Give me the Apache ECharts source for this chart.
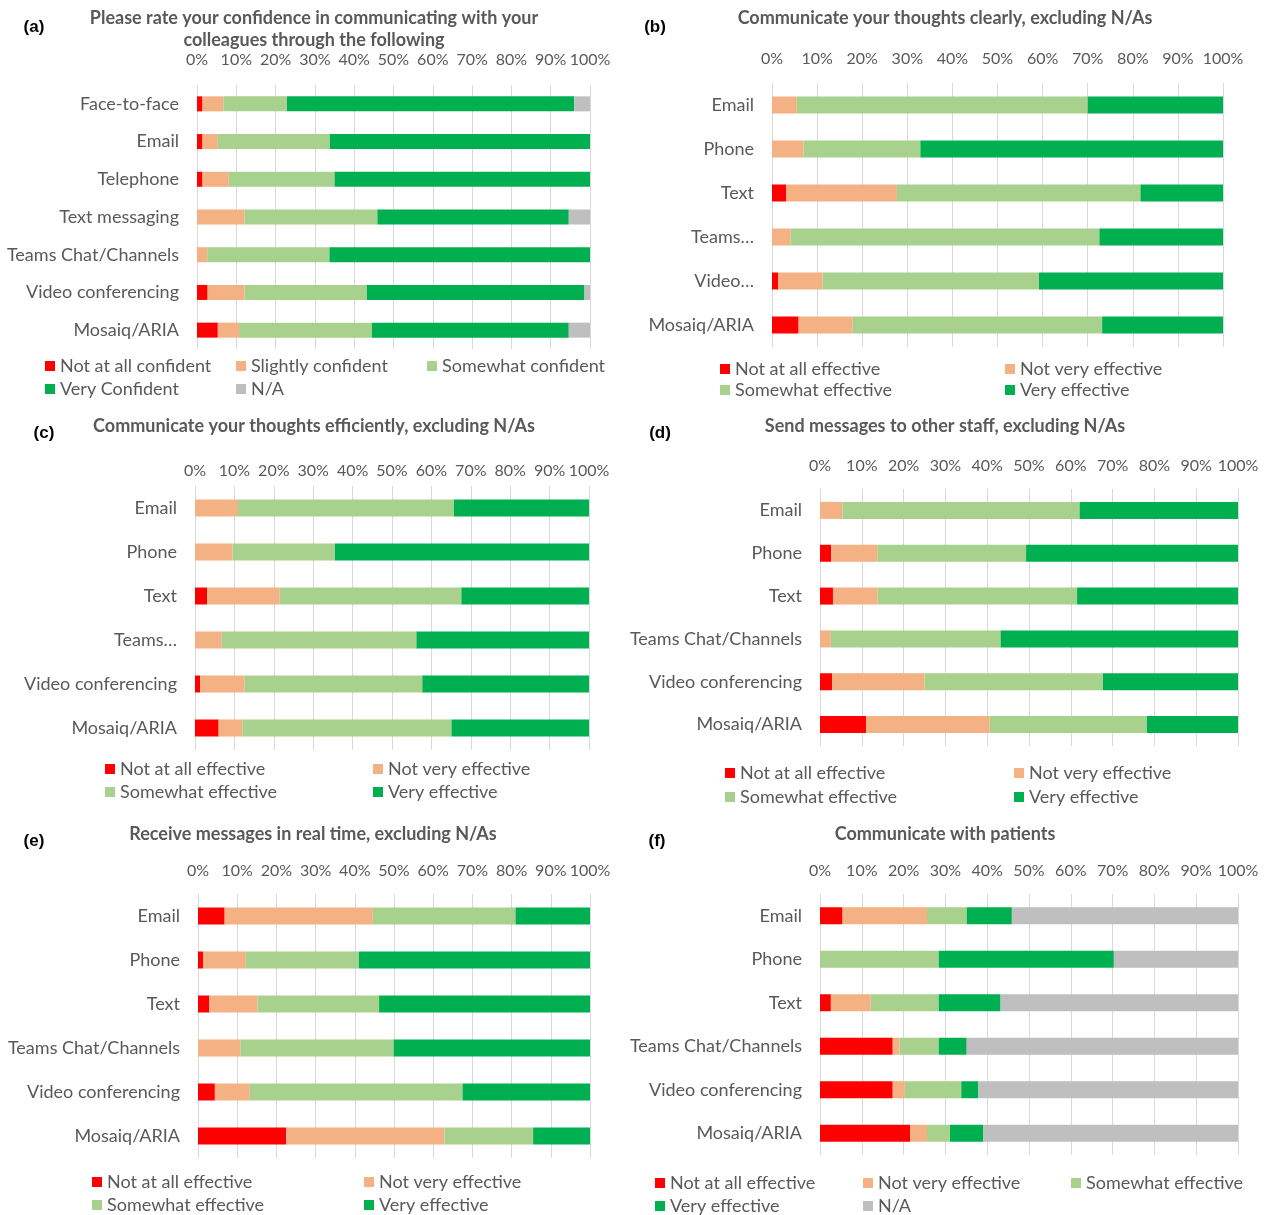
<!DOCTYPE html>
<html>
<head>
<meta charset="utf-8">
<script src="https://cdn.jsdelivr.net/npm/echarts@6/dist/echarts.min.js"></script>
<style>
html, body { margin: 0; background: #fff; }
#main { width: 1272px; height: 1215px; }
</style>
</head>
<body>
<div id="main"></div>
<script>
// categories
const catsA = ['Face-to-face', 'Email', 'Telephone', 'Text messaging', 'Teams Chat/Channels', 'Video conferencing', 'Mosaiq/ARIA'];
const catsB = ['Email', 'Phone', 'Text', 'Teams…', 'Video…', 'Mosaiq/ARIA'];
const catsC = ['Email', 'Phone', 'Text', 'Teams…', 'Video conferencing', 'Mosaiq/ARIA'];
const catsD = ['Email', 'Phone', 'Text', 'Teams Chat/Channels', 'Video conferencing', 'Mosaiq/ARIA'];

const namesConf = ['Not at all confident', 'Slightly confident', 'Somewhat confident', 'Very Confident', 'N/A'];
const namesEff = ['Not at all effective', 'Not very effective', 'Somewhat effective', 'Very effective'];
const namesEffNA = ['Not at all effective', 'Not very effective', 'Somewhat effective', 'Very effective', 'N/A'];

// (a) confidence with colleagues (%)
const confNotAtAll = [1.4, 1.4, 1.4, 0, 0, 2.7, 5.3];
const confSlightly = [5.3, 3.9, 6.7, 12.1, 2.6, 9.4, 5.4];
const confSomewhat = [16.2, 28.5, 26.9, 33.8, 31.1, 31.1, 33.8];
const confVery = [73.1, 66.2, 65.0, 48.7, 66.3, 55.4, 50.1];
const confNA = [4.0, 0, 0, 5.4, 0, 1.4, 5.4];

// (b) thoughts clearly
const clearNotAtAll = [0, 0, 3.1, 0, 1.4, 5.9];
const clearNotVery = [5.5, 7.0, 24.6, 4.1, 9.8, 12.0];
const clearSomewhat = [64.5, 25.9, 54.0, 68.5, 48.0, 55.3];
const clearVery = [30.0, 67.1, 18.3, 27.4, 40.8, 26.8];

// (c) thoughts efficiently
const effNotAtAll = [0, 0, 3.1, 0, 1.3, 6.0];
const effNotVery = [10.9, 9.5, 18.4, 6.8, 11.3, 6.0];
const effSomewhat = [54.8, 26.0, 46.1, 49.4, 45.1, 53.1];
const effVery = [34.3, 64.5, 32.4, 43.8, 42.3, 34.9];

// (d) send messages
const sendNotAtAll = [0, 2.7, 3.1, 0, 2.9, 11.0];
const sendNotVery = [5.4, 11.0, 10.7, 2.6, 22.1, 29.6];
const sendSomewhat = [56.7, 35.6, 47.7, 40.6, 42.7, 37.6];
const sendVery = [37.9, 50.7, 38.5, 56.8, 32.3, 21.8];

// (e) receive messages in real time
const recvNotAtAll = [6.8, 1.3, 2.9, 0, 4.3, 22.5];
const recvNotVery = [37.8, 10.9, 12.3, 10.8, 8.9, 40.4];
const recvSomewhat = [36.4, 28.8, 31.0, 39.1, 54.3, 22.6];
const recvVery = [19.0, 59.0, 53.8, 50.1, 32.5, 14.5];

// (f) communicate with patients
const patNotAtAll = [5.4, 0, 2.6, 17.4, 17.4, 21.6];
const patNotVery = [20.2, 0, 9.5, 1.6, 2.9, 4.0];
const patSomewhat = [9.5, 28.4, 16.3, 9.4, 13.5, 5.5];
const patVery = [10.8, 41.9, 14.8, 6.7, 4.1, 8.0];
const patNA = [54.1, 29.7, 56.8, 64.9, 62.1, 60.9];

const FONT = 'Lato, "Open Sans", sans-serif';
const TXT = '#595959';
const COLORS = ['#FF0000', '#F4B183', '#A9D18E', '#00B050', '#BFBFBF'];

const panels = [
    { tag: '(a)', tagPos: [34, 27], title: 'Please rate your confidence in communicating with your\ncolleagues through the following', titlePos: [314, 29],
      cats: catsA, names: namesConf, values: [confNotAtAll, confSlightly, confSomewhat, confVery, confNA],
      grid: [197, 85, 393, 264], barWidth: 15, tickMargin: 17,
      legend: { left: 45, pitch: 191, rows: [[366, [0, 1, 2]], [389, [3, 4]]] } },
    { tag: '(b)', tagPos: [655, 27], title: 'Communicate your thoughts clearly, excluding N/As', titlePos: [945, 18],
      cats: catsB, names: namesEff, values: [clearNotAtAll, clearNotVery, clearSomewhat, clearVery],
      grid: [772, 83, 451, 264], barWidth: 17, tickMargin: 16,
      legend: { left: 720, pitch: 285, rows: [[369, [0, 1]], [390, [2, 3]]] } },
    { tag: '(c)', tagPos: [44, 433], title: 'Communicate your thoughts efficiently, excluding N/As', titlePos: [314, 426],
      cats: catsC, names: namesEff, values: [effNotAtAll, effNotVery, effSomewhat, effVery],
      grid: [195, 486, 394, 264], barWidth: 17, tickMargin: 7,
      legend: { left: 105, pitch: 268, rows: [[769, [0, 1]], [792, [2, 3]]] } },
    { tag: '(d)', tagPos: [660, 433], title: 'Send messages to other staff, excluding N/As', titlePos: [945, 426],
      cats: catsD, names: namesEff, values: [sendNotAtAll, sendNotVery, sendSomewhat, sendVery],
      grid: [820, 489, 418, 257], barWidth: 17, tickMargin: 15,
      legend: { left: 725, pitch: 289, rows: [[773, [0, 1]], [797, [2, 3]]] } },
    { tag: '(e)', tagPos: [34, 841], title: 'Receive messages in real time, excluding N/As', titlePos: [313, 834],
      cats: catsD, names: namesEff, values: [recvNotAtAll, recvNotVery, recvSomewhat, recvVery],
      grid: [198, 894, 392, 264], barWidth: 17, tickMargin: 15,
      legend: { left: 92, pitch: 272, rows: [[1182, [0, 1]], [1205, [2, 3]]] } },
    { tag: '(f)', tagPos: [657, 841], title: 'Communicate with patients', titlePos: [945, 834],
      cats: catsD, names: namesEffNA, values: [patNotAtAll, patNotVery, patSomewhat, patVery, patNA],
      grid: [820, 894, 418, 261], barWidth: 17, tickMargin: 15,
      legend: { left: 655, pitch: 208, rows: [[1183, [0, 1, 2]], [1206, [3, 4]]] } }
];

const grids = [], xAxes = [], yAxes = [], series = [], legends = [], graphics = [];

panels.forEach(function (p, i) {
    grids.push({ left: p.grid[0], top: p.grid[1], width: p.grid[2], height: p.grid[3] });
    xAxes.push({
        type: 'value', gridIndex: i, position: 'top', min: 0, max: 100, interval: 10,
        axisLine: { show: false }, axisTick: { show: false },
        axisLabel: { formatter: '{value}%', margin: p.tickMargin, color: TXT, fontSize: 16, fontFamily: FONT,
                     hideOverlap: false, showMinLabel: true, showMaxLabel: true },
        splitLine: { show: true, lineStyle: { color: '#D9D9D9', width: 1 } }
    });
    yAxes.push({
        type: 'category', gridIndex: i, inverse: true, data: p.cats,
        axisLine: { show: false }, axisTick: { show: false }, splitLine: { show: false },
        axisLabel: { margin: 18, color: TXT, fontSize: 18, fontFamily: FONT, interval: 0 }
    });
    p.names.forEach(function (n, j) {
        series.push({
            name: n, type: 'bar', stack: 'p' + i, xAxisIndex: i, yAxisIndex: i,
            barWidth: p.barWidth, data: p.values[j],
            itemStyle: { color: COLORS[j] }, silent: true, animation: false
        });
    });
    // one legend per entry, so the entries sit in fixed columns like Excel's
    p.legend.rows.forEach(function (r) {
        r[1].forEach(function (k, col) {
            legends.push({
                left: p.legend.left + col * p.legend.pitch, top: r[0] - 11, padding: 0,
                icon: 'rect', itemWidth: 10, itemHeight: 10, itemGap: 5,
                selectedMode: false,
                data: [p.names[k]],
                textStyle: { color: TXT, fontSize: 18, fontFamily: FONT, lineHeight: 22, padding: [0, 0, 0, 0] }
            });
        });
    });
    graphics.push({
        type: 'text', x: p.titlePos[0], y: p.titlePos[1],
        style: { text: p.title, align: 'center', verticalAlign: 'middle', fontSize: 18, fontWeight: 'bold',
                 fontFamily: FONT, fill: TXT, lineHeight: 22 }
    });
    graphics.push({
        type: 'text', x: p.tagPos[0], y: p.tagPos[1],
        style: { text: p.tag, align: 'center', verticalAlign: 'middle', fontSize: 17, fontWeight: 'bold',
                 fontFamily: '"Liberation Sans", Arial, sans-serif', fill: '#000' }
    });
});

const chart = echarts.init(document.getElementById('main'));
chart.setOption({
    backgroundColor: '#fff',
    animation: false,
    grid: grids,
    xAxis: xAxes,
    yAxis: yAxes,
    legend: legends,
    series: series,
    graphic: graphics
});
</script>
</body>
</html>
